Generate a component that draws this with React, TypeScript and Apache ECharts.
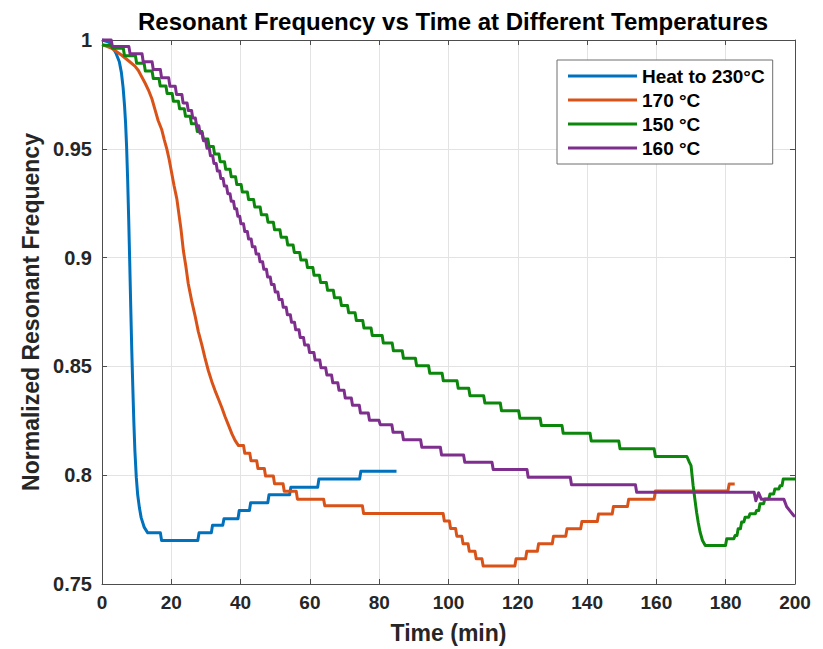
import React, { useEffect, useRef } from "react";
import * as echarts from "echarts";

const seriesNames = ["Heat to 230°C", "170 °C", "150 °C", "160 °C"];
const seriesColors = ["#0072BD", "#D95319", "#0B870B", "#7E2F8E"];
const xTicks = [0, 20, 40, 60, 80, 100, 120, 140, 160, 180, 200];
const yTicks = [0.75, 0.8, 0.85, 0.9, 0.95, 1];

// [time (min), normalized frequency]
// "Curve" arrays are read point by point; "Steps" arrays list where each
// quantized level starts (the level holds until the next entry).
const heat230Curve = [
  [0, 1.0], [2, 0.999], [3, 0.997], [4, 0.994], [5, 0.99], [5.6, 0.985], [6.1, 0.978],
  [6.5, 0.97], [6.8, 0.962], [7.1, 0.951], [7.4, 0.936], [7.7, 0.918], [8.0, 0.898],
  [8.3, 0.877], [8.6, 0.857], [8.9, 0.84], [9.2, 0.824], [9.5, 0.811], [9.9, 0.799],
  [10.3, 0.791], [10.8, 0.785], [11.3, 0.7805], [12.2, 0.776],
];
const heat230Steps = [
  [13.2, 0.7735], [17.2, 0.77], [28.0, 0.7735], [31.9, 0.777], [35.2, 0.78], [39.6, 0.7838],
  [42.9, 0.7873], [48.2, 0.791], [54.5, 0.7945], [62.6, 0.7983], [74.7, 0.8018], [85.0, 0.8018],
];

const c170Curve = [
  [0, 0.998], [3, 0.996], [5.7, 0.993], [8, 0.99], [9.5, 0.988], [10.5, 0.986],
  [11.5, 0.983], [12.5, 0.98], [13.4, 0.977], [14.4, 0.973], [15.3, 0.968],
  [16.2, 0.963], [17.2, 0.959], [18.0, 0.954], [18.7, 0.95], [19.4, 0.945],
  [20.1, 0.939], [20.8, 0.933], [21.6, 0.927], [22.2, 0.92], [22.8, 0.913],
  [23.5, 0.903], [24.2, 0.896], [24.9, 0.888], [25.9, 0.88], [26.9, 0.873],
  [27.8, 0.866], [28.8, 0.86], [29.7, 0.854], [30.7, 0.848], [31.7, 0.843],
  [32.6, 0.839], [33.6, 0.835], [34.6, 0.831], [35.5, 0.827], [36.5, 0.823],
  [37.5, 0.819], [38.4, 0.816],
];
const c170Steps = [
  [39.4, 0.8136], [41.2, 0.8101], [43.0, 0.8066], [45.0, 0.8031], [47.2, 0.7996],
  [49.8, 0.7961], [52.6, 0.7926], [56.4, 0.789], [64.3, 0.786], [75.5, 0.7824],
  [98.8, 0.7789], [100.6, 0.7755], [102.4, 0.772], [104.2, 0.7685], [106.0, 0.765],
  [108.0, 0.7616], [110.0, 0.7583], [119.5, 0.7616], [122.6, 0.765], [126.0, 0.7685],
  [130.3, 0.772], [134.2, 0.7754], [138.5, 0.7787], [143.3, 0.7822], [147.6, 0.7856],
  [152.0, 0.789], [159.7, 0.7927], [181.0, 0.796], [182.6, 0.796],
];

const c150Steps = [
  [0, 0.9976], [3, 0.9962], [6.5, 0.9928], [10, 0.9893], [12.5, 0.9858], [14.8, 0.9823],
  [16.8, 0.9789], [18.8, 0.9754], [20.6, 0.9719], [22.4, 0.9684], [24.1, 0.965],
  [25.8, 0.9615], [27.5, 0.958], [29.2, 0.9545], [30.9, 0.951], [32.5, 0.9476],
  [34.1, 0.9441], [35.7, 0.9406], [37.3, 0.9371], [38.9, 0.9336], [40.5, 0.9302],
  [42.3, 0.9267], [44.1, 0.9232], [46.0, 0.9197], [47.9, 0.9163], [49.8, 0.9128],
  [51.7, 0.9093], [53.6, 0.9058], [55.5, 0.9024], [57.4, 0.8989], [59.3, 0.8954],
  [61.2, 0.8919], [63.1, 0.8885], [65.1, 0.885], [67.1, 0.8815], [69.1, 0.878],
  [71.2, 0.8746], [73.4, 0.8711], [75.6, 0.8676], [78.0, 0.8642], [81.2, 0.8607],
  [84.1, 0.8572], [87.0, 0.8537], [90.8, 0.8503], [94.6, 0.8468], [98.5, 0.8434],
  [102.8, 0.84], [106.2, 0.8365], [110.5, 0.8332], [115.3, 0.8296], [120.6, 0.8262],
  [126.8, 0.8228], [133.1, 0.8193], [141.2, 0.8157], [149.5, 0.8121], [159.7, 0.8086],
  [168.8, 0.8086],
];
const c150Drop = [
  [169.5, 0.806], [170.0, 0.8044], [170.6, 0.7952], [171.1, 0.789], [171.6, 0.783],
  [172.1, 0.778], [172.6, 0.7739], [173.3, 0.77],
];
const c150Rise = [
  [174.1, 0.7677], [180.3, 0.7708], [182.7, 0.7723], [183.6, 0.7754], [184.6, 0.7785],
  [185.6, 0.7807], [187.0, 0.7823], [188.9, 0.7838], [189.9, 0.7869], [191.3, 0.7891],
  [192.8, 0.7914], [194.2, 0.7937], [195.7, 0.7952], [196.6, 0.7983], [200, 0.7983],
];

const c160Steps = [
  [0, 1.0], [3.0, 0.997], [8.1, 0.9937], [11.9, 0.99], [14.8, 0.9864], [17.2, 0.9826],
  [19.6, 0.9787], [21.5, 0.975], [23.4, 0.9711], [24.9, 0.9676], [26.2, 0.9641],
  [27.3, 0.9606], [28.3, 0.9572], [29.3, 0.9537], [30.3, 0.9502], [31.3, 0.9468],
  [32.3, 0.9433], [33.3, 0.9398], [34.3, 0.9363], [35.3, 0.9329], [36.3, 0.9294],
  [37.3, 0.9259], [38.3, 0.9224], [39.2, 0.919], [40.1, 0.9155], [41.2, 0.912],
  [42.3, 0.9085], [43.4, 0.905], [44.5, 0.9016], [45.6, 0.8981], [46.7, 0.8946],
  [47.8, 0.8911], [48.9, 0.8876], [50.0, 0.8842], [51.1, 0.8807], [52.3, 0.8772],
  [53.5, 0.8737], [54.7, 0.8703], [55.9, 0.8668], [57.2, 0.8633], [58.5, 0.8598],
  [59.9, 0.8564], [61.5, 0.8529], [63.2, 0.8494], [64.9, 0.846], [66.6, 0.8425],
  [68.4, 0.839], [70.2, 0.8355], [72.3, 0.8321], [74.6, 0.8286], [77.2, 0.8252],
  [80.3, 0.8232], [84.0, 0.8197], [87.0, 0.8163], [92.3, 0.8128], [98.0, 0.8093],
  [104.7, 0.806], [112.9, 0.8026], [123.0, 0.7991], [135.5, 0.7956], [154.3, 0.7922],
  [188.2, 0.7922],
];
const c160Tail = [
  [188.7, 0.7883], [189.5, 0.7919], [190.3, 0.7889], [196.8, 0.7889], [197.6, 0.7855],
  [198.6, 0.7835], [199.5, 0.7817], [200, 0.781],
];

type Part = ["curve" | "steps", number[][]];

// Turn a list of readings into drawable points; a step's riser is drawn
// with a slight slant, as in the original trace.
function buildPoints(parts: Part[]): number[][] {
  const out: number[][] = [];
  parts.forEach(([kind, pts]) => {
    if (kind === "curve") {
      pts.forEach((p) => out.push(p));
    } else {
      pts.forEach((p, i) => {
        out.push(p);
        const next = pts[i + 1];
        if (next && next[1] !== p[1]) out.push([next[0] - 0.35, p[1]]);
      });
    }
  });
  return out;
}

const FONT = "'Liberation Sans', Arial, Helvetica, sans-serif";
const AXIS_COLOR = "#4d4d4d";
const TEXT_COLOR = "#262626";

export default function App() {
  const ref = useRef<HTMLDivElement>(null);

  useEffect(() => {
    if (!ref.current) return;
    const chart = echarts.init(ref.current, undefined, { renderer: "svg" });
    const data = [
      buildPoints([["curve", heat230Curve], ["steps", heat230Steps]]),
      buildPoints([["curve", c170Curve], ["steps", c170Steps]]),
      buildPoints([["steps", c150Steps], ["curve", c150Drop], ["steps", c150Rise]]),
      buildPoints([["steps", c160Steps], ["curve", c160Tail]]),
    ];

    const axisCommon = {
      axisLine: { show: true, onZero: false, lineStyle: { color: AXIS_COLOR, width: 1 } },
      axisTick: { show: true, inside: true, length: 5, lineStyle: { color: AXIS_COLOR } },
    };

    const fmt = (v: number) => String(Number(v.toFixed(2)));

    chart.setOption({
      animation: false,
      backgroundColor: "#ffffff",
      title: {
        text: "Resonant Frequency vs Time at Different Temperatures",
        left: 448,
        top: 4,
        textAlign: "center",
        textStyle: { fontFamily: FONT, fontSize: 24, fontWeight: "bold", color: "#000" },
      },
      legend: {
        orient: "vertical",
        left: 557,
        top: 60,
        data: seriesNames,
        icon: "rect",
        itemWidth: 69,
        itemHeight: 3,
        itemGap: 4,
        padding: [6, 8, 6, 11],
        borderColor: "#6e6e6e",
        borderWidth: 1,
        borderRadius: 0,
        backgroundColor: "#ffffff",
        textStyle: { fontFamily: FONT, fontSize: 19, fontWeight: "bold", color: "#000", lineHeight: 20 },
      },
      grid: { left: 102, right: 28, top: 40, bottom: 64 },
      xAxis: [
        {
          type: "value",
          min: xTicks[0],
          max: xTicks[xTicks.length - 1],
          interval: 20,
          name: "Time (min)",
          nameLocation: "middle",
          nameGap: 37,
          nameTextStyle: { fontFamily: FONT, fontSize: 23, fontWeight: "bold", color: TEXT_COLOR },
          ...axisCommon,
          axisLabel: { margin: 9, fontFamily: FONT, fontSize: 19, fontWeight: "bold", color: TEXT_COLOR },
          splitLine: { show: true, lineStyle: { color: "#e3e3e3", width: 1 } },
        },
        {
          type: "value",
          position: "top",
          min: xTicks[0],
          max: xTicks[xTicks.length - 1],
          interval: 20,
          ...axisCommon,
          axisLabel: { show: false },
          splitLine: { show: false },
        },
      ],
      yAxis: [
        {
          type: "value",
          min: yTicks[0],
          max: yTicks[yTicks.length - 1],
          interval: 0.05,
          name: "Normalized Resonant Frequency",
          nameLocation: "middle",
          nameGap: 55,
          nameTextStyle: { fontFamily: FONT, fontSize: 23, fontWeight: "bold", color: TEXT_COLOR },
          ...axisCommon,
          axisLabel: { margin: 10, formatter: fmt, fontFamily: FONT, fontSize: 20, fontWeight: "bold", color: TEXT_COLOR },
          splitLine: { show: true, lineStyle: { color: "#e3e3e3", width: 1 } },
        },
        {
          type: "value",
          position: "right",
          min: yTicks[0],
          max: yTicks[yTicks.length - 1],
          interval: 0.05,
          ...axisCommon,
          axisLabel: { show: false },
          splitLine: { show: false },
        },
      ],
      series: data.map((d, i) => ({
        name: seriesNames[i],
        type: "line",
        xAxisIndex: 0,
        yAxisIndex: 0,
        data: d,
        showSymbol: false,
        symbol: "none",
        clip: false,
        lineStyle: { color: seriesColors[i], width: 3, join: "round" },
        itemStyle: { color: seriesColors[i] },
        z: 2 + i,
      })),
    });

    return () => chart.dispose();
  }, []);

  return (
    <div
      ref={ref}
      style={{ position: "fixed", left: 0, top: 0, width: 823, height: 649, background: "#fff" }}
    />
  );
}
